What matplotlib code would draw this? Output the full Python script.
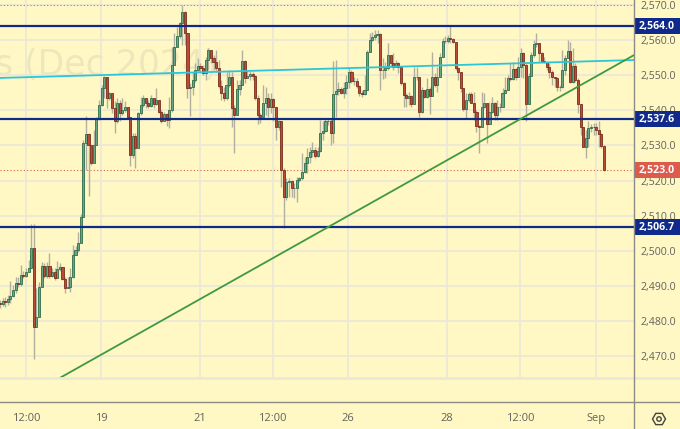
import matplotlib
matplotlib.use("Agg")
import matplotlib.pyplot as plt
import numpy as np
from matplotlib.patches import Rectangle, RegularPolygon, Circle
from matplotlib.transforms import IdentityTransform, blended_transform_factory

# bar data, one value per bar
closes = [2484.8, 2485.6, 2485.5, 2486.2, 2487.1, 2488.8, 2490.7, 2490.5, 2493.1, 2492.8, 2494.0, 2495.0,
          2500.9, 2478.2, 2481.2, 2489.6, 2495.7, 2492.8, 2495.7, 2492.8, 2494.0, 2492.1,
          2494.8, 2495.5, 2492.0, 2489.3, 2489.8, 2492.4, 2498.8, 2500.2, 2502.1, 2509.7,
          2530.6, 2533.1, 2530.1, 2525.1, 2530.1, 2537.7, 2541.5, 2546.3, 2549.4, 2543.4,
          2544.8, 2540.6, 2536.8, 2542.0, 2539.1, 2540.1, 2541.0, 2538.2, 2527.3,
          2532.7, 2529.2, 2539.1, 2541.5, 2543.4, 2542.0, 2541.2, 2543.4, 2541.7,
          2542.9, 2539.6, 2537.0, 2538.9, 2537.2, 2540.1, 2552.9, 2558.1, 2561.0, 2564.8,
          2568.1, 2561.9, 2546.3, 2546.5, 2548.6, 2551.5, 2552.7, 2551.9, 2550.7, 2554.3,
          2557.2, 2554.8, 2553.8, 2551.9, 2546.9, 2544.8, 2543.4, 2547.2, 2549.6, 2540.6,
          2538.7, 2546.0, 2547.2, 2554.1, 2549.1, 2549.8, 2550.3, 2549.8, 2543.4, 2538.7,
          2538.2, 2542.0, 2543.4, 2541.0, 2543.1, 2541.0, 2535.1, 2536.8, 2523.0, 2515.4,
          2519.7, 2520.0, 2517.8, 2517.8, 2520.2, 2520.6, 2522.5, 2524.9, 2526.6, 2528.2,
          2528.7, 2527.0, 2528.5, 2533.6, 2534.2, 2536.8, 2536.8, 2533.4, 2544.6, 2545.6,
          2546.0, 2545.0, 2546.2, 2548.1, 2551.0, 2548.4, 2548.3, 2546.9, 2544.8, 2544.6,
          2545.8, 2556.7, 2560.0, 2560.8, 2561.4, 2561.7, 2551.5, 2551.5, 2551.9, 2555.7,
          2553.5, 2552.4, 2553.4, 2552.2, 2547.9, 2544.3, 2543.4, 2544.1, 2541.8, 2549.6,
          2549.6, 2539.6, 2545.8, 2543.9, 2546.0, 2544.1, 2549.6, 2547.2, 2549.6, 2555.3,
          2559.8, 2559.8, 2560.5, 2560.2, 2559.5, 2551.9, 2551.0, 2546.2, 2540.3, 2542.9,
          2544.6, 2542.2, 2539.6, 2535.5, 2535.1, 2540.8, 2542.0, 2536.1, 2539.6, 2542.2,
          2538.7, 2540.8, 2540.8, 2545.0, 2545.8, 2549.1, 2548.8, 2551.7, 2549.6, 2552.4,
          2556.2, 2552.9, 2541.9, 2549.7, 2555.7, 2558.9, 2559.1, 2556.2, 2554.1, 2553.8,
          2552.4, 2551.0, 2549.4, 2549.1, 2546.7, 2546.7, 2551.5, 2554.8, 2557.0, 2548.1,
          2552.6, 2548.6, 2541.9, 2535.1, 2529.6, 2532.0, 2534.9, 2535.3, 2535.1, 2534.4,
          2533.2, 2529.8, 2523.0]
highs = [2486.0, 2486.6, 2486.7, 2487.4, 2491.5, 2490.2, 2492.4, 2492.6, 2495.9, 2494.3, 2495.0, 2497.5,
         2507.6, 2507.6, 2489.3, 2491.2, 2496.9, 2496.4, 2496.9, 2499.3, 2495.0, 2495.0,
         2497.2, 2496.4, 2495.5, 2492.6, 2492.4, 2495.0, 2501.6, 2501.3, 2505.4, 2510.6,
         2531.4, 2538.4, 2533.4, 2530.1, 2534.4, 2538.2, 2542.9, 2547.2, 2549.8, 2549.6,
         2545.3, 2545.0, 2542.5, 2543.4, 2542.9, 2543.4, 2542.5, 2541.0, 2538.2,
         2533.4, 2533.4, 2539.6, 2543.9, 2544.4, 2543.4, 2542.9, 2544.4, 2542.5,
         2546.3, 2542.9, 2540.1, 2539.6, 2539.3, 2543.9, 2558.1, 2561.9, 2563.8, 2565.2,
         2570.0, 2568.4, 2561.9, 2547.7, 2551.0, 2553.4, 2554.8, 2553.4, 2552.9, 2555.3,
         2557.6, 2557.2, 2555.7, 2557.2, 2554.3, 2548.6, 2546.7, 2551.0, 2551.5, 2551.0,
         2541.5, 2548.6, 2548.6, 2557.2, 2554.3, 2551.5, 2551.3, 2551.0, 2550.0, 2544.4,
         2539.1, 2547.2, 2546.7, 2544.8, 2544.8, 2543.4, 2541.0, 2537.2, 2536.8, 2523.5,
         2520.6, 2520.6, 2520.2, 2519.2, 2521.1, 2521.1, 2527.7, 2526.8, 2529.2, 2529.6,
         2531.1, 2529.6, 2529.6, 2537.2, 2536.8, 2537.7, 2537.7, 2537.7, 2554.1, 2554.3,
         2548.1, 2546.7, 2548.1, 2550.0, 2551.9, 2551.5, 2549.6, 2549.1, 2547.2, 2545.8,
         2550.0, 2557.1, 2561.9, 2562.4, 2562.8, 2562.8, 2561.9, 2554.8, 2553.8, 2559.1,
         2555.7, 2556.2, 2554.3, 2553.8, 2552.4, 2548.1, 2544.8, 2545.3, 2544.3, 2552.4,
         2552.4, 2549.6, 2546.7, 2545.8, 2549.1, 2546.7, 2556.7, 2550.5, 2552.4, 2556.2,
         2560.5, 2561.0, 2561.4, 2564.0, 2560.5, 2559.5, 2552.4, 2551.0, 2546.2, 2544.8,
         2545.3, 2545.3, 2545.3, 2540.1, 2535.8, 2545.3, 2544.8, 2541.5, 2542.4, 2543.9,
         2542.4, 2542.9, 2542.0, 2546.2, 2549.4, 2550.0, 2553.4, 2553.8, 2551.9, 2555.3,
         2557.6, 2556.7, 2553.4, 2550.5, 2556.7, 2560.0, 2561.9, 2559.2, 2556.7, 2555.1,
         2553.8, 2553.4, 2551.5, 2549.6, 2549.6, 2547.2, 2557.2, 2555.7, 2560.0, 2559.5,
         2557.6, 2553.4, 2549.1, 2541.9, 2535.3, 2534.4, 2536.8, 2536.1, 2536.5, 2536.3,
         2536.8, 2533.4, 2530.1]
lows = [2483.8, 2484.4, 2483.9, 2484.5, 2485.0, 2486.9, 2487.9, 2489.8, 2490.0, 2492.1, 2492.4, 2494.0,
        2495.0, 2469.1, 2478.2, 2481.2, 2489.6, 2492.1, 2492.1, 2492.1, 2492.6, 2491.7,
        2494.0, 2494.3, 2491.7, 2488.1, 2489.3, 2488.3, 2492.1, 2498.8, 2499.7, 2502.1,
        2509.7, 2523.0, 2515.6, 2524.4, 2524.9, 2530.1, 2537.2, 2541.2, 2543.4, 2540.6,
        2542.9, 2539.1, 2533.4, 2536.5, 2536.8, 2538.7, 2539.6, 2537.4, 2524.1,
        2526.3, 2523.5, 2529.2, 2538.7, 2541.0, 2540.6, 2540.6, 2541.0, 2540.6,
        2541.5, 2539.1, 2536.5, 2536.8, 2535.5, 2534.9, 2539.6, 2552.9, 2558.1, 2560.5,
        2558.6, 2558.6, 2543.4, 2538.4, 2544.4, 2548.1, 2551.3, 2550.7, 2550.0, 2548.6,
        2551.6, 2553.4, 2551.5, 2551.0, 2546.3, 2542.9, 2542.5, 2542.9, 2546.7, 2535.3,
        2527.9, 2538.7, 2544.4, 2547.2, 2547.7, 2549.1, 2548.6, 2548.6, 2542.9, 2536.1,
        2536.3, 2538.7, 2538.7, 2538.2, 2539.1, 2537.0, 2531.5, 2534.4, 2518.2, 2506.4,
        2514.5, 2515.4, 2515.4, 2514.9, 2514.0, 2519.7, 2520.2, 2522.2, 2522.0, 2524.9,
        2526.8, 2526.3, 2526.8, 2528.2, 2531.5, 2533.9, 2535.8, 2530.1, 2530.6, 2538.2,
        2544.3, 2544.6, 2543.4, 2544.6, 2546.2, 2547.7, 2547.2, 2546.2, 2544.1, 2543.9,
        2544.3, 2550.0, 2556.7, 2559.8, 2560.0, 2559.1, 2545.8, 2548.8, 2549.1, 2551.5,
        2552.4, 2551.5, 2552.2, 2550.5, 2547.2, 2541.0, 2540.8, 2541.5, 2540.8, 2542.0,
        2548.6, 2538.2, 2539.1, 2543.4, 2543.4, 2538.9, 2544.1, 2546.7, 2545.3, 2549.6,
        2555.3, 2559.1, 2559.2, 2559.2, 2559.1, 2551.5, 2548.6, 2545.3, 2539.9, 2537.7,
        2542.4, 2542.0, 2537.2, 2533.9, 2527.7, 2535.1, 2540.5, 2530.6, 2536.1, 2539.1,
        2537.2, 2537.2, 2539.6, 2540.8, 2545.0, 2545.8, 2548.4, 2548.6, 2548.6, 2549.6,
        2549.4, 2549.1, 2536.8, 2541.9, 2550.0, 2555.3, 2558.1, 2553.8, 2553.8, 2553.4,
        2551.6, 2549.1, 2547.2, 2546.7, 2545.6, 2545.6, 2546.2, 2550.0, 2554.8, 2547.7,
        2547.7, 2548.1, 2539.1, 2532.9, 2529.4, 2526.3, 2529.6, 2533.9, 2532.9, 2532.9,
        2529.6, 2529.2, 2522.8]
first_open = 2485.2

time_ticks = [10.1, 38.9, 76.8, 104.7, 133.6, 171.7, 199.7, 228.9]
time_labels = ["12:00", "19", "21", "12:00", "26", "28", "12:00", "Sep"]
price_ticks = [2470, 2480, 2490, 2500, 2510, 2520, 2530, 2540, 2550, 2560, 2570]
levels = [2564.0, 2537.6, 2506.7]
last_price = 2523.0
top_dotted = 2570.0
cyan_x, cyan_y = [0, 243.5], [2549.2, 2554.3]
green_x, green_y = [23, 243.5], [2463.8, 2555.7]

BG = "#fff8c4"
GRID = "#ece8d4"
NAVY = "#0f2a8a"

W, H = 680, 429
fig = plt.figure(figsize=(W / 100, H / 100), dpi=100, facecolor=BG)
plt.rcParams["font.family"] = ["Open Sans", "DejaVu Sans"]

# main pane, pixels 0-634 across and 0-378 down
ax = fig.add_axes([0, 1 - 378 / H, 634 / W, 378 / H], facecolor=BG)
ax.set_xlim(0, 243.5)
ax.set_ylim(2463.77, 2571.39)

ax.set_xticks(time_ticks)
ax.set_yticks(price_ticks)
ax.grid(color=GRID, lw=1.3, zorder=0)
ax.set_axisbelow(True)
ax.yaxis.tick_right()
ax.set_yticklabels([f"{p:,.1f}" for p in price_ticks])
ax.tick_params(axis="y", length=0, pad=5, labelsize=7.6, labelcolor="#62625c")
ax.tick_params(axis="x", length=0, labelbottom=False)
for s in ax.spines.values():
    s.set_visible(False)

# faint watermark
ax.text(218 / 634, 1 - 75 / 378, "s (Dec 2024)", transform=ax.transAxes, ha="right", va="baseline",
        fontsize=25, family="DejaVu Sans", color="#eee7bb", zorder=0.5, clip_on=True)

# candles, each opens at the previous close
closes = np.array(closes)
highs = np.array(highs)
lows = np.array(lows)
opens = np.r_[first_open, closes[:-1]]
xs = np.arange(len(closes))
up = closes >= opens

ax.vlines(xs, lows, highs, color="#b0afa0", lw=1, zorder=2)
ax.bar(xs[up], (closes - opens)[up], bottom=opens[up], width=0.8, color="#6aa585",
       edgecolor="#2f6e4c", lw=0.6, zorder=3)
ax.bar(xs[~up], (closes - opens)[~up], bottom=opens[~up], width=0.8, color="#bb4a38",
       edgecolor="#7c2e1c", lw=0.6, zorder=3)

# levels, trend lines
for lv in levels:
    ax.axhline(lv, color=NAVY, lw=1.6, zorder=4)
ax.axhline(top_dotted, color="#8f8f86", lw=0.8, ls=(0, (1, 2)), zorder=1)
ax.axhline(last_price, color="#d9604c", lw=0.8, ls=(0, (1, 2)), zorder=1)
ax.plot(cyan_x, cyan_y, color="#2cc6da", lw=1.3, zorder=4)
ax.plot(green_x, green_y, color="#3f9a3f", lw=1.3, zorder=5)

# price boxes on the right side
trans = blended_transform_factory(ax.transAxes, ax.transData)
box_h = 4.6
for p, col in [(l, NAVY) for l in levels] + [(last_price, "#dd5b4c")]:
    ax.add_patch(Rectangle((1, p - box_h / 2), 46 / 634, box_h, transform=trans, color=col,
                           clip_on=False, zorder=6, lw=0))
    ax.text(1 + 23 / 634, p - 0.1, f"{p:,.1f}", transform=trans, ha="center", va="center",
            color="white", fontsize=7.6, fontweight="bold", zorder=7)

# time axis strip
ax_t = fig.add_axes([0, 0, 634 / W, 27 / H], facecolor=BG)
ax_t.set_xlim(0, 243.5)
ax_t.set_yticks([])
ax_t.set_xticks(time_ticks)
ax_t.set_xticklabels(time_labels)
ax_t.xaxis.tick_top()
ax_t.tick_params(axis="x", direction="in", length=0, pad=-16, labelsize=8, labelcolor="#62625c")
for s in ax_t.spines.values():
    s.set_visible(False)

# pane borders, in pixels
px = IdentityTransform()
fig.add_artist(plt.Line2D([0, W], [H - 378, H - 378], color="#ebe8d8", lw=2, transform=px))
fig.add_artist(plt.Line2D([0, W], [H - 402, H - 402], color="#8c8c84", lw=1, transform=px))
fig.add_artist(plt.Line2D([634, 634], [0, H], color="#8c8c84", lw=1, transform=px))

# settings icon
fig.add_artist(RegularPolygon((659, H - 419), 6, radius=6.5, orientation=np.pi / 2, fill=False,
                              edgecolor="#444440", lw=1, transform=px))
fig.add_artist(Circle((659, H - 419), 2.2, fill=False, edgecolor="#444440", lw=1, transform=px))

fig.savefig("out.png", dpi=100, facecolor=BG)
